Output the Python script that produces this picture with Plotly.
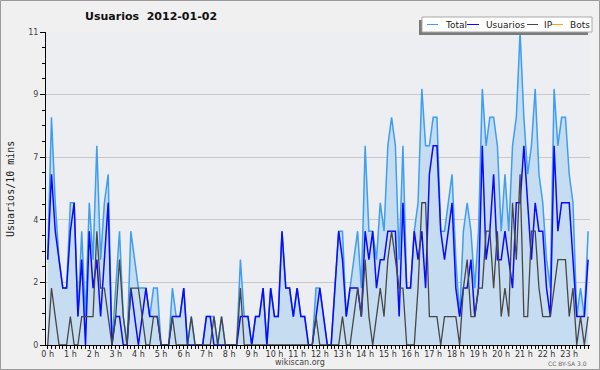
import plotly.graph_objects as go

# ---------------- data (10-minute slots over 24 h) ----------------
hours = list(range(24))
hour_labels = [f"{h} h" for h in hours]
slots = list(range(144))

total = [
    3, 8, 5, 3, 2, 2, 5, 5, 1, 4, 1, 5, 3, 7, 3, 5, 6, 0, 2, 4, 1, 0, 4, 3,
    2, 2, 2, 1, 2, 2, 0, 0, 0, 2, 1, 1, 2, 0, 1, 0, 0, 0, 1, 1, 1, 0, 1, 0,
    0, 0, 0, 3, 1, 1, 0, 1, 1, 2, 0, 2, 1, 1, 4, 2, 2, 1, 2, 1, 1, 0, 0, 2,
    2, 1, 0, 0, 2, 4, 4, 1, 2, 3, 4, 2, 7, 4, 4, 3, 5, 4, 7, 8, 7, 3, 7, 2,
    2, 4, 5, 9, 7, 7, 8, 8, 4, 4, 5, 6, 3, 1, 4, 5, 4, 2, 4, 9, 7, 8, 8, 7,
    4, 6, 4, 7, 8, 11, 8, 6, 7, 9, 6, 5, 3, 2, 9, 7, 8, 8, 6, 5, 1, 2, 1, 4,
]
usuarios = [
    3, 6, 4, 3, 2, 2, 4, 5, 1, 3, 0, 4, 2, 3, 1, 3, 5, 0, 1, 1, 0, 0, 2, 1,
    0, 1, 2, 1, 1, 1, 0, 0, 0, 1, 1, 1, 2, 0, 0, 0, 0, 0, 1, 1, 0, 0, 0, 0,
    0, 0, 0, 1, 1, 1, 0, 1, 1, 2, 0, 2, 1, 1, 4, 2, 2, 1, 2, 1, 1, 0, 0, 1,
    2, 1, 0, 0, 2, 4, 3, 1, 2, 2, 2, 1, 4, 3, 4, 2, 3, 3, 4, 4, 4, 1, 5, 2,
    2, 4, 3, 4, 2, 6, 7, 7, 4, 3, 4, 5, 2, 1, 2, 2, 3, 1, 2, 7, 3, 4, 6, 3,
    3, 4, 3, 2, 5, 5, 7, 5, 3, 5, 4, 4, 2, 1, 7, 4, 5, 5, 5, 3, 1, 1, 1, 3,
]
ip = [
    0, 2, 1, 0, 0, 0, 1, 0, 0, 1, 1, 1, 1, 4, 2, 2, 1, 0, 1, 3, 1, 0, 2, 2,
    2, 1, 0, 0, 1, 1, 0, 0, 0, 1, 0, 0, 0, 0, 1, 0, 0, 0, 0, 0, 1, 0, 1, 0,
    0, 0, 0, 2, 0, 0, 0, 0, 0, 0, 0, 0, 0, 0, 0, 0, 0, 0, 0, 0, 0, 0, 0, 1,
    0, 0, 0, 0, 0, 0, 1, 0, 0, 1, 2, 1, 3, 1, 0, 1, 2, 1, 3, 4, 3, 2, 2, 0,
    0, 0, 2, 5, 5, 1, 1, 1, 0, 1, 1, 1, 1, 0, 2, 3, 1, 1, 2, 2, 4, 4, 2, 4,
    1, 2, 1, 5, 3, 6, 1, 1, 4, 4, 2, 1, 1, 1, 2, 3, 3, 3, 1, 2, 0, 1, 0, 1,
]
bots = [
    0, 0, 0, 0, 0, 0, 0, 0, 0, 0, 0, 0, 0, 0, 0, 0, 0, 0, 0, 0, 0, 0, 0, 0,
    0, 0, 0, 0, 0, 0, 0, 0, 0, 0, 0, 0, 0, 0, 0, 0, 0, 0, 0, 0, 0, 0, 0, 0,
    0, 0, 0, 0, 0, 0, 0, 0, 0, 0, 0, 0, 0, 0, 0, 0, 0, 0, 0, 0, 0, 0, 0, 0,
    0, 0, 0, 0, 0, 0, 0, 0, 0, 0, 0, 0, 0, 0, 0, 0, 0, 0, 0, 0, 0, 0, 0, 0,
    0, 0, 0, 0, 0, 0, 0, 0, 0, 0, 0, 0, 0, 0, 0, 0, 0, 0, 0, 0, 0, 0, 0, 0,
    0, 0, 0, 0, 0, 0, 0, 0, 0, 0, 0, 0, 0, 0, 0, 0, 0, 0, 0, 0, 0, 0, 0, 0,
]
ytick_vals = [0, 2.2, 4.4, 6.6, 8.8, 11]
ytick_text = ["0", "2", "4", "7", "9", "11"]

series_names = ["Total", "Usuarios", "IP", "Bots"]
series_colors = ["#3d9ef2", "#0a0aff", "#474747", "#ffa500"]

# ---------------- layout geometry (pixels) ----------------
W, H = 600, 370
L, R, T, B = 46, 590, 32, 345
PW, PH = R - L, B - T


def px(x):
    return (x - L) / PW


def py(y):
    return (B - y) / PH


fig = go.Figure()

fig.add_trace(go.Scatter(x=slots, y=bots, mode="lines", name="Bots",
                         line=dict(color=series_colors[3], width=1),
                         showlegend=False))
fig.add_trace(go.Scatter(x=slots, y=total, mode="lines", name="Total",
                         fill="tozeroy", fillcolor="#c6dcf0",
                         line=dict(color=series_colors[0], width=1.5),
                         showlegend=False))
fig.add_trace(go.Scatter(x=slots, y=usuarios, mode="lines", name="Usuarios",
                         line=dict(color=series_colors[1], width=1.5),
                         showlegend=False))
fig.add_trace(go.Scatter(x=slots, y=ip, mode="lines", name="IP",
                         line=dict(color=series_colors[2], width=1.3),
                         showlegend=False))

shapes = []
annotations = []

# outer border
shapes.append(dict(type="rect", xref="paper", yref="paper",
                   x0=px(0.5), x1=px(599.5), y0=py(0.5), y1=py(369.5),
                   line=dict(color="#9a9a9a", width=1), layer="above"))

# legend box (shadow + box)
shapes.append(dict(type="rect", xref="paper", yref="paper",
                   x0=px(419), x1=px(588), y0=py(20), y1=py(35),
                   fillcolor="#7a7a7a", line=dict(width=0), layer="above"))
shapes.append(dict(type="rect", xref="paper", yref="paper",
                   x0=px(422), x1=px(592), y0=py(17), y1=py(32),
                   fillcolor="#ffffff", line=dict(color="#a8a8a8", width=1),
                   layer="above"))
legend_line_x = [(427, 438), (467, 479), (527, 538), (551, 563)]
legend_text_x = [443, 484, 542, 568]
for name, col, (a, b), tx in zip(series_names, series_colors, legend_line_x, legend_text_x):
    shapes.append(dict(type="line", xref="paper", yref="paper",
                       x0=px(a), x1=px(b), y0=py(24.5), y1=py(24.5),
                       line=dict(color=col, width=1), layer="above"))
    annotations.append(dict(text=name, xref="paper", yref="paper",
                            x=px(tx), y=py(24.5), xanchor="left", yanchor="middle",
                            showarrow=False,
                            font=dict(family="DejaVu Sans", size=9, color="#222222")))

# title
annotations.append(dict(text="<b>Usuarios\u00a0\u00a02012-01-02</b>", xref="paper", yref="paper",
                        x=px(151), y=py(17), xanchor="center", yanchor="middle",
                        showarrow=False,
                        font=dict(family="DejaVu Sans", size=11, color="#111111")))
# y axis title
annotations.append(dict(text="Usuarios/10 mins", xref="paper", yref="paper",
                        x=px(10), y=py(189), xanchor="center", yanchor="middle",
                        textangle=-90, showarrow=False,
                        font=dict(family="DejaVu Sans Mono", size=10, color="#222222")))
# footer
annotations.append(dict(text="wikiscan.org", xref="paper", yref="paper",
                        x=px(300), y=py(362.5), xanchor="center", yanchor="middle",
                        showarrow=False,
                        font=dict(family="DejaVu Sans", size=8, color="#444444")))
annotations.append(dict(text="CC BY-SA 3.0", xref="paper", yref="paper",
                        x=px(589), y=py(363.5), xanchor="right", yanchor="middle",
                        showarrow=False,
                        font=dict(family="DejaVu Sans", size=6, color="#666666")))

fig.update_layout(
    width=W, height=H,
    margin=dict(l=L, r=W - R, t=T, b=H - B, pad=0),
    paper_bgcolor="#f0f0f0",
    plot_bgcolor="#eceef1",
    showlegend=False,
    shapes=shapes,
    annotations=annotations,
    font=dict(family="DejaVu Sans", size=8, color="#333333"),
    xaxis=dict(
        range=[-0.45, 143.5],
        tickmode="array",
        tickvals=[h * 6 for h in hours],
        ticktext=hour_labels,
        ticks="outside", ticklen=3, tickcolor="#000000", tickwidth=1,
        ticklabelstandoff=-2,
        showline=True, linecolor="#000000", linewidth=1,
        showgrid=False, zeroline=False,
        tickfont=dict(family="DejaVu Sans", size=8, color="#333333"),
        minor=dict(ticks="outside", ticklen=3, tickcolor="#000000",
                   tickvals=slots, showgrid=False),
        fixedrange=True,
    ),
    yaxis=dict(
        range=[0, 11],
        tickmode="array",
        tickvals=ytick_vals,
        ticktext=ytick_text,
        ticks="outside", ticklen=5, tickcolor="#000000", tickwidth=1,
        showline=True, linecolor="#000000", linewidth=1,
        showgrid=True, gridcolor="#c8c8c8", gridwidth=1,
        zeroline=False,
        tickfont=dict(family="DejaVu Sans", size=8, color="#444444"),
        minor=dict(ticks="outside", ticklen=3, tickcolor="#000000",
                   tickvals=[k * 0.55 for k in range(21)], showgrid=False),
        fixedrange=True,
    ),
)

fig.write_html(
    "out.html",
    config={"displayModeBar": False},
    post_script="document.body.style.margin='0';document.body.style.padding='0';"
                "document.body.style.overflow='hidden';",
)
